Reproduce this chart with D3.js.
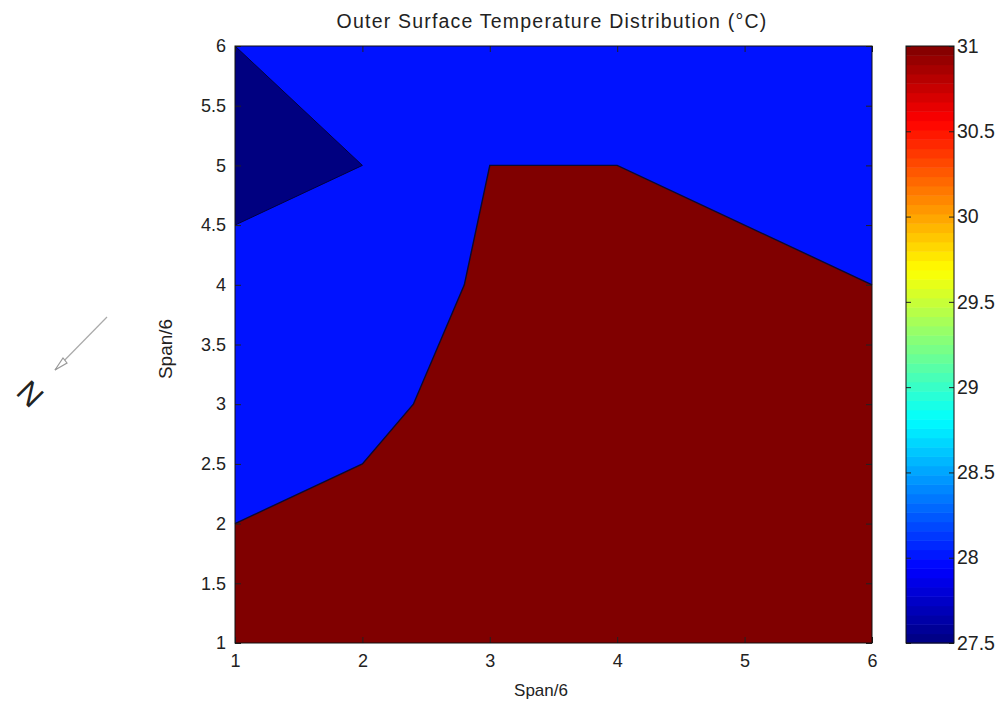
<!DOCTYPE html>
<html>
<head>
<meta charset="utf-8">
<script src="https://cdn.jsdelivr.net/npm/d3@7"></script>
<style>
    body { margin: 0; background: #fff; }
    text { font-family: "Liberation Sans", Arial, sans-serif; fill: #222; }
</style>
</head>
<body>
<div id="chart"></div>
<script>
// contour regions (data units)
var hotEdgeX = [1, 2, 2.4, 2.8, 3, 4, 6];
var hotEdgeY = [2, 2.5, 3, 4, 5, 5, 4];
var coldPatchX = [1, 2, 1];
var coldPatchY = [6, 5, 4.5];

// temperature level of each filled region (°C)
var backgroundLevel = 28;
var hotLevel = 31;
var coldLevel = 27.5;

var axisTicks = [1, 1.5, 2, 2.5, 3, 3.5, 4, 4.5, 5, 5.5, 6];
var xTicks = [1, 2, 3, 4, 5, 6];
var cbarTicks = [27.5, 28, 28.5, 29, 29.5, 30, 30.5, 31];
var cbarDomain = [27.5, 31];

var width = 1006, height = 709;
var plot = { left: 235, right: 872, top: 46, bottom: 643 };
var cbar = { left: 906, right: 954 };

// MATLAB style jet colormap
function jet(t) {
    var c = function (v) { return Math.round(255 * Math.max(0, Math.min(1, v))); };
    return "rgb(" + c(1.5 - Math.abs(4 * t - 3)) + "," + c(1.5 - Math.abs(4 * t - 2)) + "," + c(1.5 - Math.abs(4 * t - 1)) + ")";
}
var tScale = d3.scaleLinear().domain(cbarDomain).range([0, 1]).clamp(true);
function levelColor(v) { return jet(tScale(v)); }

var svg = d3.select("#chart").append("svg")
    .attr("width", width)
    .attr("height", height);

var x = d3.scaleLinear().domain([1, 6]).range([plot.left, plot.right]);
var y = d3.scaleLinear().domain([1, 6]).range([plot.bottom, plot.top]);

// background level
svg.append("rect")
    .attr("x", x(1)).attr("y", y(6))
    .attr("width", x(6) - x(1)).attr("height", y(1) - y(6))
    .attr("fill", levelColor(backgroundLevel));

var hotPts = hotEdgeX.map(function (d, i) { return [d, hotEdgeY[i]]; });
var coldPts = coldPatchX.map(function (d, i) { return [d, coldPatchY[i]]; });

var line = d3.line()
    .x(function (d) { return x(d[0]); })
    .y(function (d) { return y(d[1]); });

// hot region closes along the bottom of the plate
svg.append("path")
    .attr("d", line(hotPts.concat([[6, 1], [1, 1]])) + "Z")
    .attr("fill", levelColor(hotLevel));

svg.append("path")
    .attr("d", line(coldPts) + "Z")
    .attr("fill", levelColor(coldLevel));

// contour lines
svg.append("path")
    .attr("d", line(hotPts))
    .attr("fill", "none")
    .attr("stroke", "#0a0a30")
    .attr("stroke-width", 1.4);
svg.append("path")
    .attr("d", line(coldPts))
    .attr("fill", "none")
    .attr("stroke", "#000040")
    .attr("stroke-width", 1);

// axes with inward ticks
var fmt = d3.format("~g");
var gL = svg.append("g").attr("transform", "translate(" + plot.left + ",0)")
    .call(d3.axisLeft(y).tickValues(axisTicks).tickFormat(fmt).tickSize(-6).tickPadding(9));
var gR = svg.append("g").attr("transform", "translate(" + plot.right + ",0)")
    .call(d3.axisRight(y).tickValues(axisTicks).tickFormat("").tickSize(-6));
var gB = svg.append("g").attr("transform", "translate(0," + plot.bottom + ")")
    .call(d3.axisBottom(x).tickValues(xTicks).tickFormat(fmt).tickSize(-6).tickPadding(11));
var gT = svg.append("g").attr("transform", "translate(0," + plot.top + ")")
    .call(d3.axisTop(x).tickValues(xTicks).tickFormat("").tickSize(-6));

[gL, gR, gB, gT].forEach(function (g) {
    g.select(".domain").remove();
    g.selectAll(".tick line").attr("stroke", "#222");
    g.selectAll("text").attr("font-size", 18).attr("fill", "#222")
        .attr("font-family", "Liberation Sans, Arial, sans-serif");
});

svg.append("rect")
    .attr("x", plot.left).attr("y", plot.top)
    .attr("width", plot.right - plot.left).attr("height", plot.bottom - plot.top)
    .attr("fill", "none").attr("stroke", "#111").attr("stroke-width", 1);

// colorbar
var cy = d3.scaleLinear().domain(cbarDomain).range([plot.bottom, plot.top]);
var nBands = 64;
var bandStep = (cbarDomain[1] - cbarDomain[0]) / nBands;
svg.append("g").selectAll("rect")
    .data(d3.range(nBands))
    .enter().append("rect")
    .attr("x", cbar.left)
    .attr("width", cbar.right - cbar.left)
    .attr("y", function (i) { return cy(cbarDomain[0] + (i + 1) * bandStep); })
    .attr("height", function (i) { return cy(cbarDomain[0] + i * bandStep) - cy(cbarDomain[0] + (i + 1) * bandStep) + 0.5; })
    .attr("fill", function (i) { return jet((i + 0.5) / nBands); });

var cR = svg.append("g").attr("transform", "translate(" + cbar.right + ",0)")
    .call(d3.axisRight(cy).tickValues(cbarTicks).tickFormat(fmt).tickSize(-5).tickPadding(3));
var cL = svg.append("g").attr("transform", "translate(" + cbar.left + ",0)")
    .call(d3.axisLeft(cy).tickValues(cbarTicks).tickFormat("").tickSize(-5));
[cR, cL].forEach(function (g) {
    g.select(".domain").remove();
    g.selectAll(".tick line").attr("stroke", "#222");
    g.selectAll("text").attr("font-size", 19.5).attr("fill", "#222")
        .attr("font-family", "Liberation Sans, Arial, sans-serif");
});
svg.append("rect")
    .attr("x", cbar.left).attr("y", plot.top)
    .attr("width", cbar.right - cbar.left).attr("height", plot.bottom - plot.top)
    .attr("fill", "none").attr("stroke", "#111").attr("stroke-width", 1);

// labels
svg.append("text")
    .attr("x", 552).attr("y", 28)
    .attr("text-anchor", "middle")
    .attr("font-size", 19.5)
    .attr("letter-spacing", 1.2)
    .text("Outer Surface Temperature Distribution (°C)");

svg.append("text")
    .attr("x", 541).attr("y", 696)
    .attr("text-anchor", "middle")
    .attr("font-size", 17)
    .text("Span/6");

svg.append("text")
    .attr("transform", "translate(172,349) rotate(-90)")
    .attr("text-anchor", "middle")
    .attr("font-size", 19)
    .text("Span/6");

// north arrow
var arrow = svg.append("g");
arrow.append("line")
    .attr("x1", 107).attr("y1", 317).attr("x2", 55).attr("y2", 370)
    .attr("stroke", "#aaa").attr("stroke-width", 1.2);
arrow.append("path")
    .attr("d", "M55,370 L63,358 L67,363 Z")
    .attr("fill", "#fff").attr("stroke", "#999").attr("stroke-width", 1.2);
arrow.append("text")
    .attr("transform", "translate(30,394) rotate(45)")
    .attr("text-anchor", "middle")
    .attr("dominant-baseline", "central")
    .attr("font-size", 31)
    .attr("fill", "#111")
    .text("N");
</script>
</body>
</html>
